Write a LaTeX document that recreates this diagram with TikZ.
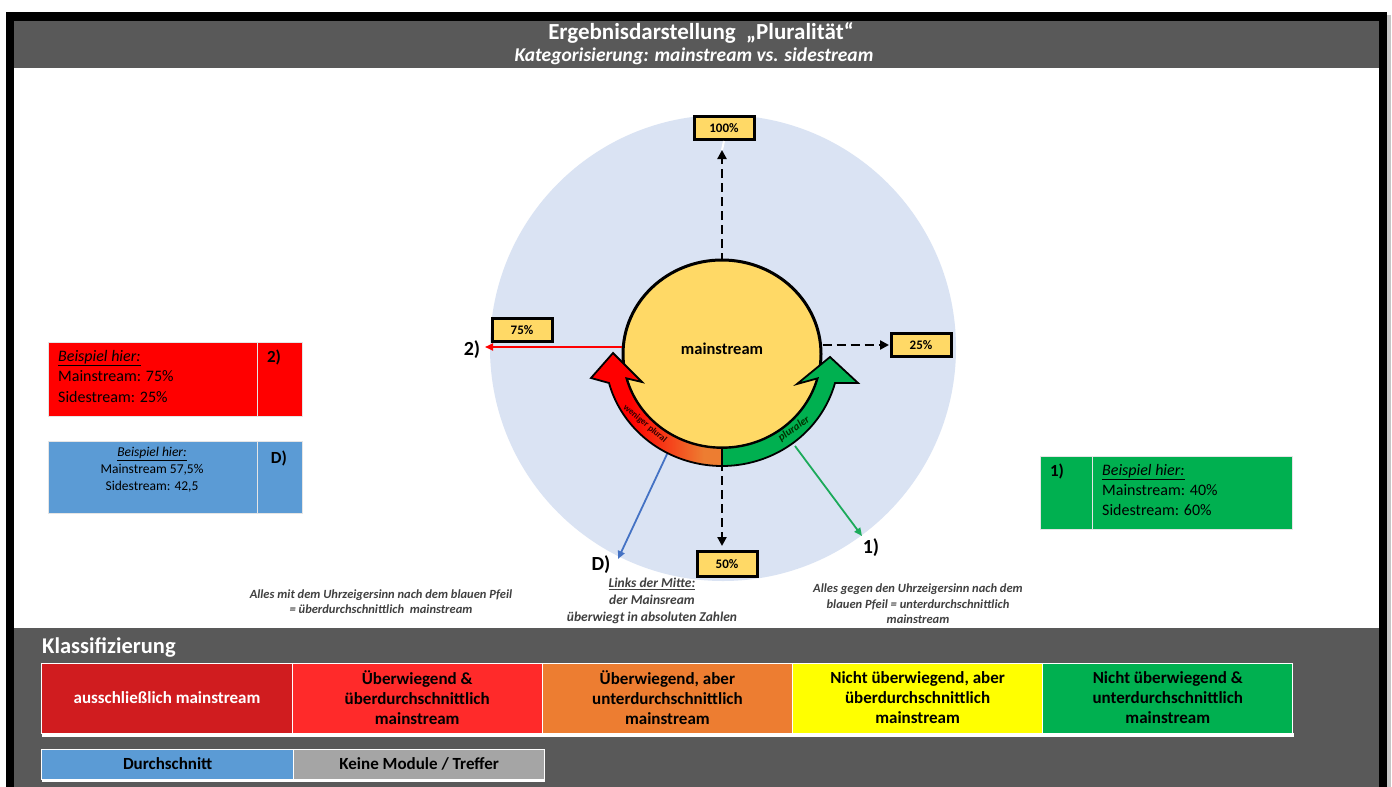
\documentclass[tikz,border=0pt]{standalone}
\usepackage{fontspec}
\setmainfont{Carlito}
\usetikzlibrary{shapes.geometric,arrows.meta}
\definecolor{bgdark}{HTML}{595959}
\definecolor{circbg}{HTML}{DAE3F3}
\definecolor{yel}{HTML}{FFD966}
\definecolor{darkred}{HTML}{D01C1F}
\definecolor{brightred}{HTML}{FF2A2A}
\definecolor{orng}{HTML}{ED7D31}
\definecolor{yellowc}{HTML}{FFFF00}
\definecolor{greenc}{HTML}{00B050}
\definecolor{bluec}{HTML}{5B9BD5}
\definecolor{grayc}{HTML}{A5A5A5}
\definecolor{txtgray}{HTML}{404040}
\definecolor{blueline}{HTML}{4472C4}
\definecolor{greenline}{HTML}{1BAA5A}
\pgfdeclarehorizontalshading{redorange}{100bp}{color(0bp)=(red); color(40bp)=(red); color(68bp)=(orng); color(100bp)=(orng)}
\tikzset{
  pctbox/.style={draw=black, line width=3pt, fill=yel, minimum width=60pt, minimum height=23pt, inner sep=0pt, font=\fontsize{13}{15}\selectfont\bfseries},
  dasharrow/.style={draw=black, line width=2.6pt, dash pattern=on 9pt off 5pt, -{Triangle[length=9pt,width=9pt]}},
  thinarrow/.style={line width=1.8pt, -{Triangle[length=8pt,width=7pt]}},
  lbl/.style={font=\fontsize{20}{22}\selectfont\bfseries, inner sep=0pt},
  panel/.style={draw=white!80!gray, line width=0.8pt, inner sep=0pt, rectangle},
  cell/.style={draw=white, line width=1pt, inner sep=0pt, minimum width=250.2pt, minimum height=70pt, align=center, font=\fontsize{17}{20}\selectfont\bfseries},
  cellb/.style={draw=white, line width=1pt, inner sep=0pt, minimum width=251.5pt, minimum height=30pt, align=center, font=\fontsize{17}{20}\selectfont\bfseries},
  note/.style={align=center, text=txtgray, font=\fontsize{12.5}{15.5}\selectfont\itshape\bfseries, inner sep=0pt},
}
\begin{document}
\begin{tikzpicture}[x=1pt,y=-1pt]
\useasboundingbox (0,0) rectangle (1392,787);
\fill[white] (0,0) rectangle (1392,787);
\fill[gray!45] (1387,15) rectangle (1391,787);
\fill[black] (6,12) rectangle (1387,787);
\fill[bgdark] (14,21) rectangle (1379,68);
\fill[white] (14,68) rectangle (1379,628);
\fill[bgdark] (14,628) rectangle (1379,787);

% title
\node[text=white, font=\fontsize{23}{25}\selectfont\bfseries, inner sep=0pt] (title) at (701,33) {Ergebnisdarstellung\ \ „Pluralität“};
\node[text=white, font=\fontsize{19.5}{22}\selectfont\bfseries\itshape, inner sep=0pt] (subtitle) at (694,56) {Kategorisierung: mainstream vs. sidestream};

% big background circle
\node[circle, fill=circbg, minimum size=466pt, inner sep=0pt] (bigc) at (723,348) {};

% percentage boxes
\node[pctbox] (box100) at (724,128) {100\%};
\node[pctbox] (box75) at (522,330) {75\%};
\node[pctbox] (box25) at (921,345) {25\%};
\node[pctbox, minimum height=25pt] (box50) at (727,564) {50\%};

% free ends
\coordinate (upend) at (722,150);
\coordinate (rightend) at (889,345);
\coordinate (downend) at (722,546);
\coordinate (redend) at (485,347);
\coordinate (bluestart) at (668,452);
\coordinate (blueend) at (618,559);
\coordinate (greenstart) at (795,446);
\coordinate (greenend) at (862,536);

\draw[white, line width=2pt] (box100.south) -- (upend);
\draw[dasharrow] (722,262) -- (upend);
\draw[dasharrow] (722,462) -- (downend);

% main circle
\node[ellipse, draw=black, line width=3pt, fill=yel, minimum width=198pt, minimum height=188pt, inner sep=0pt] (main) at (722,354) {};
\node[font=\fontsize{16.5}{18}\selectfont\bfseries, inner sep=0pt] (mtext) at (722,349) {mainstream};

\draw[dasharrow] (main.east |- rightend) -- (rightend);
\draw[thinarrow, red] (main.west |- redend) -- (redend);
\draw[thinarrow, blueline] (bluestart) -- (blueend);
\draw[thinarrow, greenline] (greenstart) -- (greenend);

% arc arrows
\path[draw=black, line width=1.8pt, line join=miter, shading=redorange]
  plot[domain=90:165, samples=40] ({722+117*cos(\x)},{354+112*sin(\x)})
  -- (591,378) -- (613,353) -- (642,382)
  -- plot[domain=165:90, samples=40] ({722+99*cos(\x)},{354+94*sin(\x)}) -- cycle;
\path[draw=black, line width=1.8pt, line join=miter, fill=greenc]
  plot[domain=90:15, samples=40] ({722+117*cos(\x)},{354+112*sin(\x)})
  -- (858,383) -- (830,357) -- (797,384)
  -- plot[domain=15:90, samples=40] ({722+99*cos(\x)},{354+94*sin(\x)}) -- cycle;
\node[rotate=-40, font=\fontsize{9}{9}\selectfont\bfseries, text=black!80!red, inner sep=0pt] (wp) at (645,424) {weniger plural};
\node[rotate=36, font=\fontsize{11}{11}\selectfont\itshape\bfseries, text=black!80!green, inner sep=0pt] (pl) at (794,429) {pluraler};

% labels
\node[lbl] (l2) at (472,350) {2)};
\node[lbl] (lD) at (601,565) {D)};
\node[lbl] (l1) at (871,548) {1)};

% example boxes left
\node[panel, fill=red, minimum width=209pt, minimum height=74pt] (ex2a) at (152.5,379) {};
\node[panel, fill=red, minimum width=45pt, minimum height=74pt] (ex2b) at (279.5,379) {};
\node[anchor=north west, align=left, inner sep=0pt, font=\fontsize{16}{20.5}\selectfont] (ex2t) at (58,350) {\textit{\underline{Beispiel hier:}}\\Mainstream: 75\%\\Sidestream: 25\%};
\node[lbl, font=\fontsize{17}{20}\selectfont\bfseries] (ex2l) at (274,357) {2)};

\node[panel, fill=bluec, minimum width=209pt, minimum height=72pt] (exDa) at (152.5,477) {};
\node[panel, fill=bluec, minimum width=45pt, minimum height=72pt] (exDb) at (279.5,477) {};
\node[anchor=north, align=center, inner sep=0pt, font=\fontsize{13.5}{17}\selectfont] (exDt) at (152,447) {\textit{\underline{Beispiel hier:}}\\Mainstream 57,5\%\\Sidestream: 42,5};
\node[lbl, font=\fontsize{17}{20}\selectfont\bfseries] (exDl) at (279,458) {D)};

% example box right
\node[panel, fill=greenc, minimum width=52pt, minimum height=73pt] (ex1a) at (1066,492.5) {};
\node[panel, fill=greenc, minimum width=200pt, minimum height=73pt] (ex1b) at (1192,492.5) {};
\node[lbl, font=\fontsize{17}{20}\selectfont\bfseries] (ex1l) at (1057,471) {1)};
\node[anchor=north west, align=left, inner sep=0pt, font=\fontsize{16}{20}\selectfont] (ex1t) at (1102,464) {\textit{\underline{Beispiel hier:}}\\Mainstream: 40\%\\Sidestream: 60\%};

% notes
\node[note] (n1) at (381,601.5) {Alles mit dem Uhrzeigersinn nach dem blauen Pfeil\\= überdurchschnittlich\ \ mainstream};
\node[note, font=\fontsize{13.5}{17}\selectfont\itshape\bfseries] (n2) at (652,601) {\underline{Links der Mitte:}\\der Mainsream\\überwiegt in absoluten Zahlen};
\node[note] (n3) at (918,604) {Alles gegen den Uhrzeigersinn nach dem\\blauen Pfeil = unterdurchschnittlich\\mainstream};

% classification
\node[anchor=west, text=white, font=\fontsize{22.5}{24}\selectfont\bfseries, inner sep=0pt] (klass) at (42,647) {Klassifizierung};
\fill[white] (42,733) rectangle (1294,737);
\node[cell, fill=darkred, text=white] (c1) at (167,698) {ausschließlich mainstream};
\node[cell, fill=brightred] (c2) at (417.2,698) {Überwiegend \&\\überdurchschnittlich\\mainstream};
\node[cell, fill=orng] (c3) at (667.4,698) {Überwiegend, aber\\unterdurchschnittlich\\mainstream};
\node[cell, fill=yellowc] (c4) at (917.6,698) {Nicht überwiegend, aber\\überdurchschnittlich\\mainstream};
\node[cell, fill=greenc] (c5) at (1167.8,698) {Nicht überwiegend \&\\unterdurchschnittlich\\mainstream};
\fill[white] (42,779) rectangle (545,782);
\node[cellb, fill=bluec] (d1) at (167.7,764) {Durchschnitt};
\node[cellb, fill=grayc] (d2) at (419.2,764) {Keine Module / Treffer};
\end{tikzpicture}
\end{document}
